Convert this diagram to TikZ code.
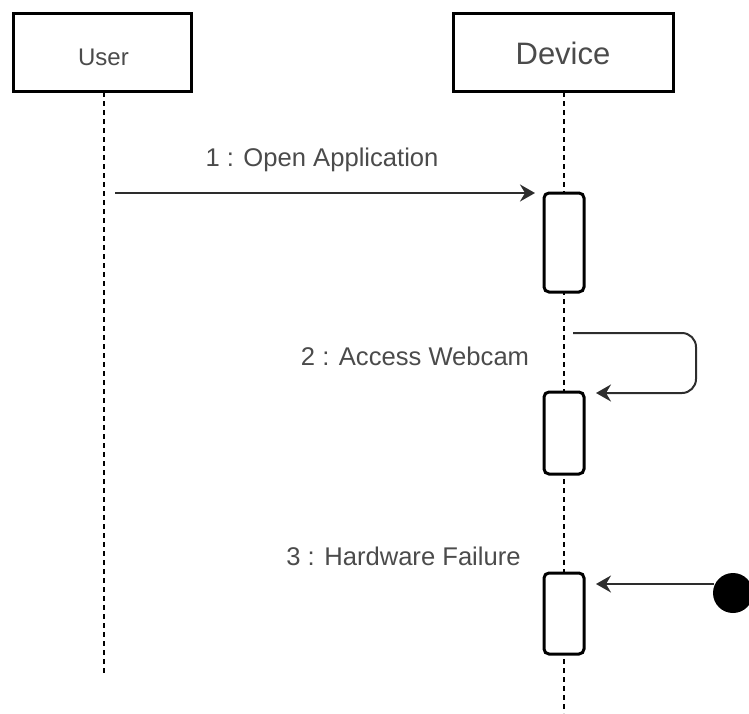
\documentclass[tikz,border=0pt]{standalone}
\usepackage{fontspec}
\setmainfont{Liberation Sans}
\usetikzlibrary{arrows.meta}
\definecolor{txtgray}{RGB}{75,75,75}
\definecolor{msggray}{RGB}{45,45,45}
\begin{document}
\begin{tikzpicture}[x=1pt,y=-1pt,
  lifebox/.style={draw=black, line width=3pt, fill=white, text=txtgray, inner sep=0pt},
  actbox/.style={draw=black, line width=3pt, fill=white, rounded corners=5pt, minimum width=40pt, inner sep=0pt},
  lifeline/.style={draw=black, line width=1.5pt, dash pattern=on 5pt off 4pt},
  msgline/.style={draw=msggray, line width=2pt, -{Stealth[length=15pt,width=17pt,inset=5pt]}},
  lbl/.style={text=txtgray, inner sep=0pt, anchor=base, font=\fontsize{25.6}{30}\selectfont}]
\useasboundingbox (0,0) rectangle (749,713);

% lifelines
\coordinate (uend) at (104,673);
\coordinate (dend) at (564,713);
\coordinate (utop) at (104,92);
\coordinate (dtop) at (564,92);
\draw[lifeline] (utop) -- (uend);
\draw[lifeline] (dtop) -- (dend);

% heads
\node[lifebox, minimum width=178pt, minimum height=78pt] (user) at (102.5,52) {};
\node[lifebox, minimum width=220pt, minimum height=78pt] (device) at (563.5,52) {};
\node[lbl, font=\fontsize{24}{28}\selectfont] (usertxt) at (103.5,65) {User};
\node[lbl, font=\fontsize{31}{36}\selectfont] (devtxt) at (563,64) {Device};

% activations
\node[actbox, minimum height=99pt] (a1) at (564,242.5) {};
\node[actbox, minimum height=82pt] (a2) at (564,433) {};
\node[actbox, minimum height=81pt] (a3) at (564,613.5) {};

% message 1
\coordinate (m1s) at (115,193);
\coordinate (m1e) at (535,193);
\draw[msgline] (m1s) -- (m1e);
\node[lbl] (l1) at (322,166) {1 : Open Application};

% message 2 (self)
\coordinate (m2s) at (573,333);
\coordinate (m2c1) at (696,333);
\coordinate (m2c2) at (696,393);
\coordinate (m2e) at (596,393);
\draw[msgline, rounded corners=14pt] (m2s) -- (m2c1) -- (m2c2) -- (m2e);
\node[lbl] (l2) at (415,365) {2 : Access Webcam};

% message 3 (found)
\node[circle, fill=black, minimum size=40pt, inner sep=0pt] (found) at (733,593) {};
\coordinate (m3s) at (714,584);
\coordinate (m3e) at (596,584);
\draw[msgline] (m3s) -- (m3e);
\node[lbl] (l3) at (403.5,565) {3 : Hardware Failure};
\end{tikzpicture}
\end{document}
